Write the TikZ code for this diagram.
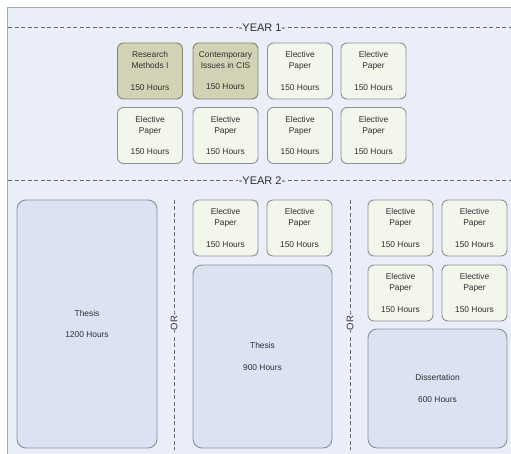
\documentclass[tikz,border=0pt]{standalone}
\usepackage{fontspec}
\setmainfont{Liberation Sans}
\begin{document}
\begin{tikzpicture}[x=1pt,y=-1pt,
  every node/.style={text=txtgray},
  box/.style={draw=boxline, line width=0.9pt, rounded corners=6pt, align=center,
    minimum width=65pt, minimum height=56pt, inner sep=0pt,
    font=\fontsize{8.4}{10.7}\selectfont},
  ebox/.style={box, fill=elecfill},
  cbox/.style={box, fill=corefill, draw=coreline},
  bigbox/.style={box, fill=bigfill, rounded corners=9pt, minimum width=139pt},
  sep/.style={draw=dashgray, line width=1pt, dash pattern=on 4pt off 2.5pt},
  yearlbl/.style={fill=bgblue, inner sep=0.5pt, font=\fontsize{11}{12}\selectfont},
  orlbl/.style={fill=bgblue, inner sep=0.5pt, rotate=90, font=\fontsize{9.5}{11}\selectfont}
]
\definecolor{bgblue}{HTML}{E9EEF8}
\definecolor{frame}{HTML}{A6A8AC}
\definecolor{boxline}{HTML}{8E9096}
\definecolor{coreline}{HTML}{85866E}
\definecolor{elecfill}{HTML}{F3F6EB}
\definecolor{corefill}{HTML}{D2D3B5}
\definecolor{bigfill}{HTML}{DCE2F2}
\definecolor{dashgray}{HTML}{65676B}
\definecolor{txtgray}{HTML}{2E2F32}
\useasboundingbox (0,0) rectangle (511,454);
\fill[white] (0,0) rectangle (511,454);
\draw[frame, fill=bgblue, line width=1.2pt] (7.5,7.5) rectangle (530,470);

% year separators
\coordinate (y1l) at (8,27.5);
\coordinate (y1r) at (511,27.5);
\coordinate (y2l) at (8,181);
\coordinate (y2r) at (511,181);
\draw[sep] (y1l) -- (y1r);
\draw[sep] (y2l) -- (y2r);
\node[yearlbl] (year1) at (262,27.5) {-YEAR 1-};
\node[yearlbl] (year2) at (262,181) {-YEAR 2-};

% year 1 row 1
\node[cbox] (r1) at (150,71) {Research\\Methods I\\[10.7pt]150 Hours};
\node[cbox] (c1) at (225.5,71) {Contemporary\\Issues in CIS\\[10.7pt]150 Hours};
\node[ebox] (e13) at (300,71) {Elective\\Paper\\[10.7pt]150 Hours};
\node[ebox] (e14) at (373.5,71) {Elective\\Paper\\[10.7pt]150 Hours};
% year 1 row 2
\node[ebox] (e21) at (150,135.5) {Elective\\Paper\\[10.7pt]150 Hours};
\node[ebox] (e22) at (225.5,135.5) {Elective\\Paper\\[10.7pt]150 Hours};
\node[ebox] (e23) at (300,135.5) {Elective\\Paper\\[10.7pt]150 Hours};
\node[ebox] (e24) at (373.5,135.5) {Elective\\Paper\\[10.7pt]150 Hours};

% year 2 option A
\node[bigbox, minimum width=140pt, minimum height=248pt] (t1200) at (87,324) {Thesis\\[11pt]1200 Hours};

% OR separators
\coordinate (o1t) at (174,200);
\coordinate (o1b) at (174,450);
\coordinate (o2t) at (350,200);
\coordinate (o2b) at (350,450);
\draw[sep] (o1t) -- (o1b);
\draw[sep] (o2t) -- (o2b);
\node[orlbl] (or1) at (174,323) {-OR-};
\node[orlbl] (or2) at (350,323) {-OR-};

% year 2 option B
\node[ebox] (b1) at (225.5,228) {Elective\\Paper\\[10.7pt]150 Hours};
\node[ebox] (b2) at (299.5,228) {Elective\\Paper\\[10.7pt]150 Hours};
\node[bigbox, minimum height=183pt] (t900) at (262.5,356.5) {Thesis\\[11pt]900 Hours};

% year 2 option C
\node[ebox] (c11) at (400.5,228) {Elective\\Paper\\[10.7pt]150 Hours};
\node[ebox] (c12) at (474.5,228) {Elective\\Paper\\[10.7pt]150 Hours};
\node[ebox] (c21) at (400.5,293) {Elective\\Paper\\[10.7pt]150 Hours};
\node[ebox] (c22) at (474.5,293) {Elective\\Paper\\[10.7pt]150 Hours};
\node[bigbox, minimum height=119pt] (diss) at (437.5,388.5) {Dissertation\\[11pt]600 Hours};
\end{tikzpicture}
\end{document}
